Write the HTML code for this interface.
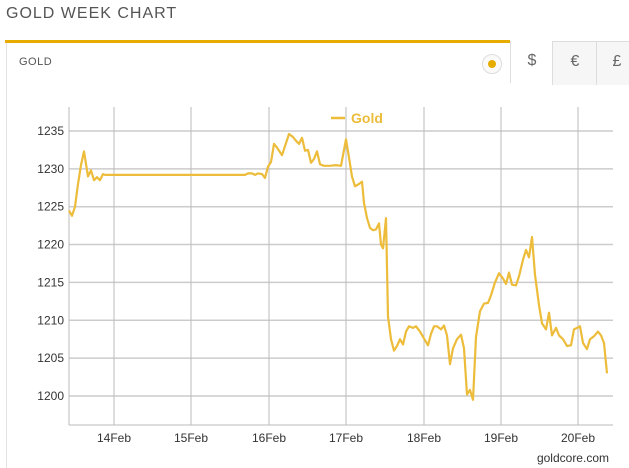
<!DOCTYPE html>
<html><head><meta charset="utf-8"><style>
body{margin:0;width:629px;height:468px;background:#fff;font-family:"Liberation Sans",sans-serif;overflow:hidden;position:relative}
.t{position:absolute;left:6px;top:5px;font-size:16px;letter-spacing:1px;color:#555}
.bar{position:absolute;left:5px;top:40px;width:505px;height:3px;background:#e6ac00}
.g{position:absolute;left:19px;top:56px;font-size:11px;color:#555;letter-spacing:.5px}
.tab{position:absolute;top:43px;height:41px;border:1px solid #ddd;border-bottom:none;background:#f6f6f6;color:#666;font-size:16px;text-align:center;line-height:40px}
</style></head><body>
<div class="t">GOLD WEEK CHART</div>
<div class="bar"></div>
<div class="g">GOLD</div>
<div style="position:absolute;left:6px;top:43px;width:1px;height:425px;background:#e3e3e3"></div>
<div style="position:absolute;left:482px;top:54px;width:18px;height:18px;border-radius:50%;border:1px solid #ddd;background:#fafafa"></div>
<div style="position:absolute;left:488px;top:60px;width:8px;height:8px;border-radius:50%;background:#e6ac00"></div>
<div class="tab" style="left:510px;width:42px;background:#fff;border-top:none;top:41px;height:42px">$</div>
<div class="tab" style="left:552px;width:44px;top:41px;height:43px">€</div>
<div class="tab" style="left:596px;width:40px;top:41px;height:43px">£</div>
<svg width="629" height="468" style="position:absolute;left:0;top:0" id="s"></svg>
<script>
var s=document.getElementById('s'),h='';
function Y(v){return 396-(v-1200)*7.572;}
for(var v=1200;v<=1235;v+=5){var y=Y(v);h+='<line x1="69" x2="613" y1="'+y+'" y2="'+y+'" stroke="#ccc" stroke-width="1.5"/><text x="64" y="'+(y+4)+'" text-anchor="end" font-size="12" fill="#333" font-family="Liberation Sans">'+v+'</text>';}
var xs=[114,191,269,346,424,501,578],ls=['14Feb','15Feb','16Feb','17Feb','18Feb','19Feb','20Feb'];
for(var i=0;i<7;i++){h+='<line x1="'+xs[i]+'" x2="'+xs[i]+'" y1="107" y2="425" stroke="#bbb"/><text x="'+xs[i]+'" y="442" text-anchor="middle" font-size="12" fill="#333" font-family="Liberation Sans">'+ls[i]+'</text>';}
h+='<line x1="69" x2="613" y1="425" y2="425" stroke="#bbb"/><line x1="69" x2="69" y1="107" y2="425" stroke="#bbb"/>';
var d=[69,1224.5,72,1223.8,75,1225,78,1228,81,1230.5,84,1232.3,88,1229,91,1229.8,94,1228.5,97,1228.9,100,1228.5,103,1229.3,105,1229.2,245,1229.2,248,1229.4,252,1229.4,255,1229.2,258,1229.4,262,1229.3,265,1228.8,268,1230.3,271,1230.9,274,1233.3,277,1232.8,282,1231.8,289,1234.6,293,1234.2,296,1233.7,299,1233.3,302,1234.1,305,1232.4,308,1232.5,311,1230.8,314,1231.3,317,1232.3,320,1230.6,324,1230.4,330,1230.4,336,1230.5,341,1230.4,346,1233.9,349,1231.5,352,1229,355,1227.7,359,1228,362,1228.3,364,1225.5,367,1223.5,370,1222.2,373,1221.9,376,1222,379,1222.8,381,1220,383,1219.5,386,1223.5,388,1210.5,391,1207.5,394,1206,397,1206.6,400,1207.5,403,1206.8,406,1208.5,409,1209.2,413,1209,416,1209.2,420,1208.5,424,1207.6,428,1206.7,431,1208.2,434,1209.2,437,1209.2,441,1208.8,444,1209.3,447,1208,450,1204.2,453,1206.3,457,1207.5,461,1208.1,464,1206.3,467,1200.2,470,1200.8,473,1199.5,476,1207.8,480,1211.2,484,1212.2,488,1212.3,491,1213.3,495,1215,499,1216.2,503,1215.5,506,1214.8,509,1216.3,512,1214.7,516,1214.6,519,1215.8,523,1218,526,1219.3,529,1218.3,532,1221,535,1216,539,1212,542,1209.6,546,1208.8,549,1211,552,1208,556,1209,559,1208,563,1207.5,567,1206.6,571,1206.7,574,1208.8,577,1209,580,1209.2,583,1207,587,1206.2,590,1207.5,594,1207.9,598,1208.5,601,1208,604,1207,607,1203];
var p='';for(var i=0;i<d.length;i+=2)p+=d[i]+','+Y(d[i+1]).toFixed(1)+' ';
h+='<polyline points="'+p+'" fill="none" stroke="#ecbc3a" stroke-width="2.2" stroke-linejoin="round"/>';
h+='<line x1="331" x2="345" y1="118" y2="118" stroke="#ecbc3a" stroke-width="2.5"/><text x="351" y="123" font-size="14" font-weight="bold" fill="#ecbc3a" font-family="Liberation Sans">Gold</text>';
h+='<text x="609" y="462" text-anchor="end" font-size="12" fill="#333" font-family="Liberation Sans">goldcore.com</text>';
s.innerHTML=h;
</script>
</body></html>
